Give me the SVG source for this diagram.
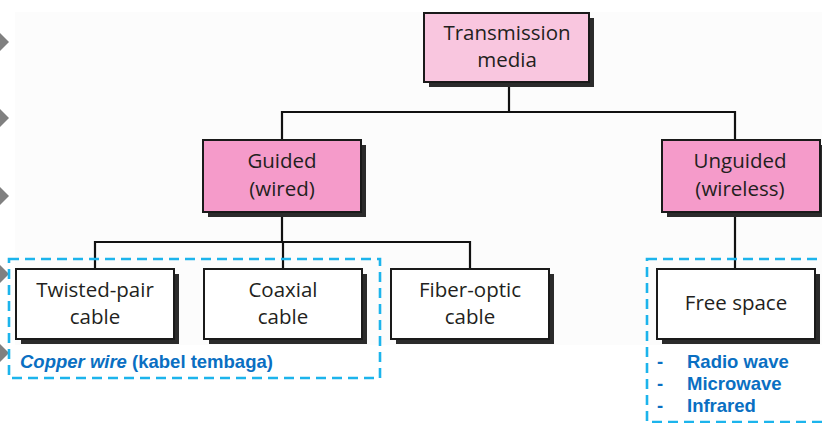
<svg xmlns="http://www.w3.org/2000/svg" width="822" height="423" viewBox="0 0 822 423">
<defs>
<style>
.box{stroke:#1a1a1a;stroke-width:2}
.shadow{fill:#2b2b2b}
.pink1{fill:#f9c6df}
.pink2{fill:#f59bca}
.white{fill:#ffffff}
.t{font-family:"Open Sans","Noto Sans","Liberation Sans",sans-serif;font-size:20.5px;fill:#231f20;text-anchor:middle}
.wire{fill:none;stroke:#111;stroke-width:2.2}
.dash{fill:none;stroke:#1cb4ec;stroke-width:2.6;stroke-dasharray:10 6}
.blue{font-family:"Liberation Sans",Arial,sans-serif;font-size:18.5px;font-weight:bold;fill:#0a6fc2}
.bullet{fill:#808080}
</style>
</defs>
<rect width="822" height="423" fill="#ffffff"/>
<rect x="15" y="12" width="807" height="333" fill="#fcfcfc"/>
<g id="bullets">
<polygon class="bullet" points="0,33 9,42 0,51 -9,42"/>
<polygon class="bullet" points="0,109 9,118 0,127 -9,118"/>
<polygon class="bullet" points="0,187 9,196 0,205 -9,196"/>
<polygon class="bullet" points="0,265 9,274 0,283 -9,274"/>
<polygon class="bullet" points="0,344 9,353 0,362 -9,353"/>
</g>
<g id="connectors">
<polyline class="wire" points="509,82 509,112"/>
<polyline class="wire" points="282,140 282,112 735,112 735,140"/>
<polyline class="wire" points="282,212 282,242"/>
<polyline class="wire" points="95,269 95,242 470,242 470,269"/>
<polyline class="wire" points="283,242 283,269"/>
<polyline class="wire" points="735,212 735,269"/>
</g>
<g id="transmission-media">
<rect class="shadow" x="429" y="18" width="165" height="69"/>
<rect class="box pink1" x="424" y="13" width="165" height="69"/>
<text class="t" x="507" y="40">Transmission</text>
<text class="t" x="507" y="67">media</text>
</g>
<g id="guided">
<rect class="shadow" x="208" y="145" width="158" height="72"/>
<rect class="box pink2" x="203" y="140" width="158" height="72"/>
<text class="t" x="282" y="168">Guided</text>
<text class="t" x="282" y="196">(wired)</text>
</g>
<g id="unguided">
<rect class="shadow" x="667" y="145" width="158" height="72"/>
<rect class="box pink2" x="662" y="140" width="158" height="72"/>
<text class="t" x="740" y="168">Unguided</text>
<text class="t" x="740" y="196">(wireless)</text>
</g>
<g id="twisted-pair">
<rect class="shadow" x="21" y="274" width="158" height="70"/>
<rect class="box white" x="16" y="269" width="158" height="70"/>
<text class="t" x="95" y="297">Twisted-pair</text>
<text class="t" x="95" y="324">cable</text>
</g>
<g id="coaxial">
<rect class="shadow" x="209" y="274" width="158" height="70"/>
<rect class="box white" x="204" y="269" width="158" height="70"/>
<text class="t" x="283" y="297">Coaxial</text>
<text class="t" x="283" y="324">cable</text>
</g>
<g id="fiber-optic">
<rect class="shadow" x="396" y="274" width="158" height="70"/>
<rect class="box white" x="391" y="269" width="158" height="70"/>
<text class="t" x="470" y="297">Fiber-optic</text>
<text class="t" x="470" y="324">cable</text>
</g>
<g id="free-space">
<rect class="shadow" x="662" y="274" width="158" height="70"/>
<rect class="box white" x="657" y="269" width="158" height="70"/>
<text class="t" x="736" y="310">Free space</text>
</g>
<g id="copper-group">
<rect class="dash" x="9" y="259" width="371" height="119"/>
<text class="blue" x="20" y="368"><tspan font-style="italic">Copper wire</tspan> (kabel tembaga)</text>
</g>
<g id="wireless-group">
<rect class="dash" x="647" y="259" width="190" height="163"/>
<text class="blue" x="657" y="368" font-weight="normal">-</text>
<text class="blue" x="687" y="368">Radio wave</text>
<text class="blue" x="657" y="390" font-weight="normal">-</text>
<text class="blue" x="687" y="390">Microwave</text>
<text class="blue" x="657" y="412" font-weight="normal">-</text>
<text class="blue" x="687" y="412">Infrared</text>
</g>
</svg>
